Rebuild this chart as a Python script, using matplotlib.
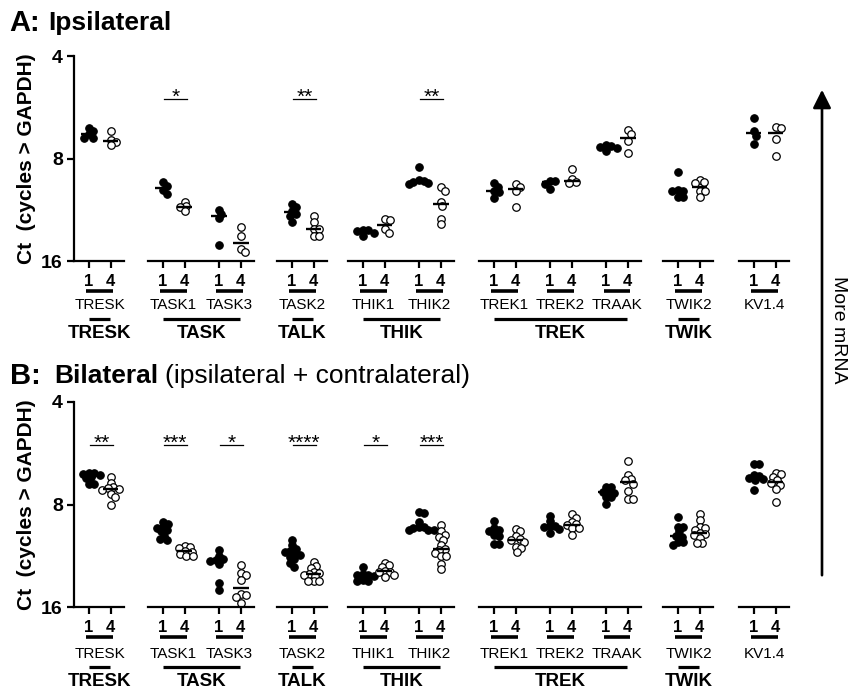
import numpy as np
import matplotlib
matplotlib.use("Agg")
import matplotlib.pyplot as plt
from matplotlib.transforms import offset_copy
from matplotlib.patches import FancyArrowPatch

plt.rcParams['font.family'] = ['Liberation Sans', 'DejaVu Sans']

# ---- data: Ct values (cycles > GAPDH), day 1 vs day 4 ----
# A: ipsilateral
A_TRESK_1 = [6.5, 6.65, 6.8, 6.95, 6.95]
A_TRESK_4 = [6.65, 7.05, 7.15, 7.3]
A_TASK1_1 = [9.4, 9.65, 9.9, 10.15]
A_TASK1_4 = [10.7, 11.05, 11.1, 11.4]
A_TASK3_1 = [11.3, 11.65, 12.0, 14.35]
A_TASK3_4 = [12.75, 13.5, 14.8, 15.1]
A_TASK2_1 = [10.9, 11.1, 11.4, 11.65, 11.8, 12.25]
A_TASK2_4 = [11.8, 12.3, 12.9, 12.9, 13.5, 13.5]
A_THIK1_1 = [13.0, 13.0, 13.1, 13.2, 13.5]
A_THIK1_4 = [12.05, 12.15, 12.9, 13.2]
A_THIK2_1 = [8.5, 9.25, 9.3, 9.35, 9.45, 9.5]
A_THIK2_4 = [9.7, 9.95, 10.7, 11.05, 12.05, 12.45]
A_TREK1_1 = [9.45, 9.7, 9.95, 10.05, 10.45]
A_TREK1_4 = [9.5, 9.7, 9.95, 11.1]
A_TREK2_1 = [9.3, 9.3, 9.5, 9.8]
A_TREK2_4 = [8.6, 9.2, 9.4, 9.45]
A_TRAAK_1 = [7.3, 7.35, 7.4, 7.45, 7.6]
A_TRAAK_4 = [6.6, 6.8, 7.1, 7.7]
A_TWIK2_1 = [8.75, 9.9, 9.95, 10.0, 10.35, 10.35]
A_TWIK2_4 = [9.25, 9.4, 9.45, 10.0, 10.0, 10.35]
A_KV14_1 = [6.1, 6.65, 6.85, 7.25]
A_KV14_4 = [6.45, 6.5, 7.0, 7.85]

# B: bilateral
B_TRESK_1 = [6.45, 6.45, 6.5, 6.55, 6.65, 6.7, 6.95, 6.95]
B_TRESK_4 = [6.65, 6.9, 7.1, 7.15, 7.2, 7.25, 7.45, 7.6, 8.05]
B_TASK1_1 = [9.0, 9.1, 9.3, 9.35, 9.5, 9.6, 9.9, 10.1, 10.2]
B_TASK1_4 = [10.6, 10.65, 10.7, 10.95, 11.0, 11.2, 11.3, 11.35]
B_TASK3_1 = [10.9, 11.3, 11.6, 11.65, 11.7, 12.0, 13.6, 14.3]
B_TASK3_4 = [12.05, 12.7, 12.9, 13.35, 14.7, 14.8, 14.95, 15.6]
B_TASK2_1 = [10.15, 10.55, 10.8, 10.95, 11.0, 11.2, 11.25, 11.4, 11.6, 11.9, 12.2]
B_TASK2_4 = [11.8, 12.15, 12.25, 12.6, 12.75, 12.8, 12.9, 13.0, 13.45, 13.45, 13.45]
B_THIK1_1 = [12.2, 12.8, 12.85, 12.9, 12.95, 13.3, 13.45, 13.45]
B_THIK1_4 = [11.85, 12.05, 12.2, 12.55, 12.6, 12.65, 12.85, 13.1]
B_THIK2_1 = [8.4, 8.5, 9.0, 9.3, 9.3, 9.35, 9.5, 9.5, 9.5]
B_THIK2_4 = [9.2, 9.6, 9.85, 9.95, 10.2, 10.55, 10.8, 10.9, 11.1, 11.35, 11.35, 11.95, 12.4]
B_TREK1_1 = [8.95, 9.4, 9.5, 9.6, 9.8, 9.9, 10.45, 10.45]
B_TREK1_4 = [9.45, 9.6, 9.9, 10.1, 10.15, 10.3, 10.65, 10.7, 11.0]
B_TREK2_1 = [8.65, 8.95, 9.25, 9.25, 9.3, 9.45, 9.7]
B_TREK2_4 = [8.55, 8.75, 9.0, 9.15, 9.2, 9.4, 9.4, 9.85]
B_TRAAK_1 = [7.1, 7.1, 7.3, 7.35, 7.4, 7.6, 7.6, 7.95]
B_TRAAK_4 = [5.95, 6.55, 6.75, 6.8, 6.95, 7.3, 7.7, 7.7]
B_TWIK2_1 = [8.7, 9.3, 9.3, 9.6, 9.9, 9.95, 10.3, 10.3, 10.5]
B_TWIK2_4 = [8.55, 8.9, 9.3, 9.35, 9.5, 9.7, 9.75, 9.85, 10.05, 10.35, 10.35]
B_KV14_1 = [6.1, 6.1, 6.55, 6.6, 6.7, 6.75, 6.8, 7.25]
B_KV14_4 = [6.45, 6.5, 6.65, 6.8, 6.9, 7.0, 7.2, 7.85]

group_names = ["TRESK", "TASK", "TALK", "THIK", "TREK", "TWIK", ""]
group_genes = [["TRESK"], ["TASK1", "TASK3"], ["TASK2"], ["THIK1", "THIK2"],
               ["TREK1", "TREK2", "TRAAK"], ["TWIK2"], ["KV1.4"]]
day_labels = ["1", "4"]

panel_a = {"TRESK": (A_TRESK_1, A_TRESK_4), "TASK1": (A_TASK1_1, A_TASK1_4),
           "TASK3": (A_TASK3_1, A_TASK3_4), "TASK2": (A_TASK2_1, A_TASK2_4),
           "THIK1": (A_THIK1_1, A_THIK1_4), "THIK2": (A_THIK2_1, A_THIK2_4),
           "TREK1": (A_TREK1_1, A_TREK1_4), "TREK2": (A_TREK2_1, A_TREK2_4),
           "TRAAK": (A_TRAAK_1, A_TRAAK_4), "TWIK2": (A_TWIK2_1, A_TWIK2_4),
           "KV1.4": (A_KV14_1, A_KV14_4)}
panel_b = {"TRESK": (B_TRESK_1, B_TRESK_4), "TASK1": (B_TASK1_1, B_TASK1_4),
           "TASK3": (B_TASK3_1, B_TASK3_4), "TASK2": (B_TASK2_1, B_TASK2_4),
           "THIK1": (B_THIK1_1, B_THIK1_4), "THIK2": (B_THIK2_1, B_THIK2_4),
           "TREK1": (B_TREK1_1, B_TREK1_4), "TREK2": (B_TREK2_1, B_TREK2_4),
           "TRAAK": (B_TRAAK_1, B_TRAAK_4), "TWIK2": (B_TWIK2_1, B_TWIK2_4),
           "KV1.4": (B_KV14_1, B_KV14_4)}
sig_a = {"TASK1": "*", "TASK2": "**", "THIK2": "**"}
sig_b = {"TRESK": "**", "TASK1": "***", "TASK3": "*", "TASK2": "****",
         "THIK1": "*", "THIK2": "***"}

# ---- layout (pixels) ----
W, H = 848, 694
PX_X = 22.0        # pixels per x unit (day 1 -> day 4)
PX_OCT = 102.5     # pixels per doubling on y
GENE_STEP = 2.55
group_left = [74, 148, 277, 348, 479, 663, 739]
PAD_L, PAD_R = 0.66, 0.6

fig = plt.figure(figsize=(W / 100, H / 100), dpi=100)


def swarm(vals, d=4.8, step=1.4):
    ys = np.log2(vals) * PX_OCT
    offs = np.zeros(len(vals))
    placed = []
    for i in np.argsort(ys, kind="stable"):
        for k in range(60):
            cand = ((k + 1) // 2) * step * (1 if k % 2 else -1)
            if all((cand - px) ** 2 + (ys[i] - py) ** 2 >= d * d for px, py in placed):
                break
        placed.append((cand, ys[i]))
        offs[i] = cand
    return offs / PX_X


def below(ax, px):
    return offset_copy(ax.get_xaxis_transform(), fig=fig, y=-px, units='dots')


def draw_panel(top_px, data, sig, offs):
    gene_off, gbar_off, gname_off = offs
    for gi, (gname, genes) in enumerate(zip(group_names, group_genes)):
        n = len(genes)
        xmax = (n - 1) * GENE_STEP + 1 + PAD_R
        width = (xmax + PAD_L) * PX_X
        ax = fig.add_axes([group_left[gi] / W, 1 - (top_px + 205) / H,
                           width / W, 205 / H])
        ax.set_yscale('log', base=2)
        ax.set_ylim(16, 4)
        ax.set_xlim(-PAD_L, xmax)
        for s in ["top", "right"]:
            ax.spines[s].set_visible(False)
        ax.spines["bottom"].set_linewidth(1.6)
        ax.spines["left"].set_linewidth(1.6)
        if gi == 0:
            ax.set_yticks([4, 8, 16])
            ax.set_yticklabels(["4", "8", "16"], fontsize=14, fontweight='bold')
            ax.yaxis.set_minor_locator(matplotlib.ticker.NullLocator())
            ax.tick_params(axis='y', length=5, width=1.6, pad=3)
            ax.set_ylabel("Ct  (cycles > GAPDH)", fontsize=15, fontweight='bold',
                          labelpad=4)
        else:
            ax.spines["left"].set_visible(False)
            ax.yaxis.set_major_locator(matplotlib.ticker.NullLocator())
            ax.yaxis.set_minor_locator(matplotlib.ticker.NullLocator())
        ticks, labels = [], []
        for j, g in enumerate(genes):
            p = j * GENE_STEP
            ticks += [p, p + 1]
            labels += day_labels
            v1, v4 = data[g]
            x1 = p + swarm(v1)
            x4 = p + 1 + swarm(v4)
            ax.plot(x1, v1, 'o', ms=5.4, mfc='black', mec='black', mew=0.8,
                    clip_on=False, zorder=2)
            ax.plot(x4, v4, 'o', ms=5.4, mfc='white', mec='black', mew=0.9,
                    clip_on=False, zorder=2)
            ax.hlines([np.median(v1), np.median(v4)], [p - 0.36, p + 0.64],
                      [p + 0.36, p + 1.36], colors='black', lw=1.7, zorder=3)
            # pair bar and gene name
            ax.plot([p - 0.1, p + 1.1], [0, 0], color='black', lw=2.6,
                    transform=below(ax, 30), clip_on=False, solid_capstyle='butt')
            ax.text(p + 0.5, 0, g, transform=below(ax, gene_off), ha='center',
                    va='center', fontsize=11)
            if g in sig:
                ax.plot([p + 0.05, p + 1.12], [0.79, 0.79], color='black', lw=0.9,
                        transform=ax.get_xaxis_transform(), clip_on=False)
                ax.annotate(sig[g], (p + 0.58, 0.79), xycoords=ax.get_xaxis_transform(),
                            xytext=(0, -4), textcoords='offset pixels',
                            ha='center', va='baseline', fontsize=15)
        ax.set_xticks(ticks)
        ax.set_xticklabels(labels, fontsize=12, fontweight='bold')
        ax.tick_params(axis='x', length=5, width=1.6, pad=4)
        if gname:
            last = (n - 1) * GENE_STEP + 1
            ax.plot([0.02, last - 0.02], [0, 0], color='black', lw=2.3,
                    transform=below(ax, gbar_off), clip_on=False, solid_capstyle='butt')
            ax.text(last / 2, 0, gname, transform=below(ax, gname_off), ha='center',
                    va='center', fontsize=13.5, fontweight='bold')


draw_panel(56, panel_a, sig_a, (44, 58, 72))
draw_panel(402, panel_b, sig_b, (47, 60, 75))

# panel titles
fig.text(9 / W, 1 - 23 / H, "A:", fontsize=21, fontweight='bold', va='center')
fig.text(48 / W, 1 - 23 / H, "Ipsilateral", fontsize=19, fontweight='bold', va='center')
fig.text(10 / W, 1 - 376 / H, "B:", fontsize=21, fontweight='bold', va='center')
fig.text(54 / W, 1 - 376 / H, "Bilateral", fontsize=19, fontweight='bold', va='center')
fig.text(165 / W, 1 - 376 / H, "(ipsilateral + contralateral)", fontsize=19,
         va='center')

# "More mRNA" arrow
arrow = FancyArrowPatch((822 / W, 1 - 578 / H), (822 / W, 1 - 87 / H),
                        transform=fig.transFigure, arrowstyle='-|>,head_length=11,head_width=5.5',
                        mutation_scale=1, lw=1.9, color='black')
fig.add_artist(arrow)
fig.text(838 / W, 1 - 330 / H, "More mRNA", rotation=270, fontsize=14,
         ha='center', va='center')

fig.savefig("out.png", dpi=100)
